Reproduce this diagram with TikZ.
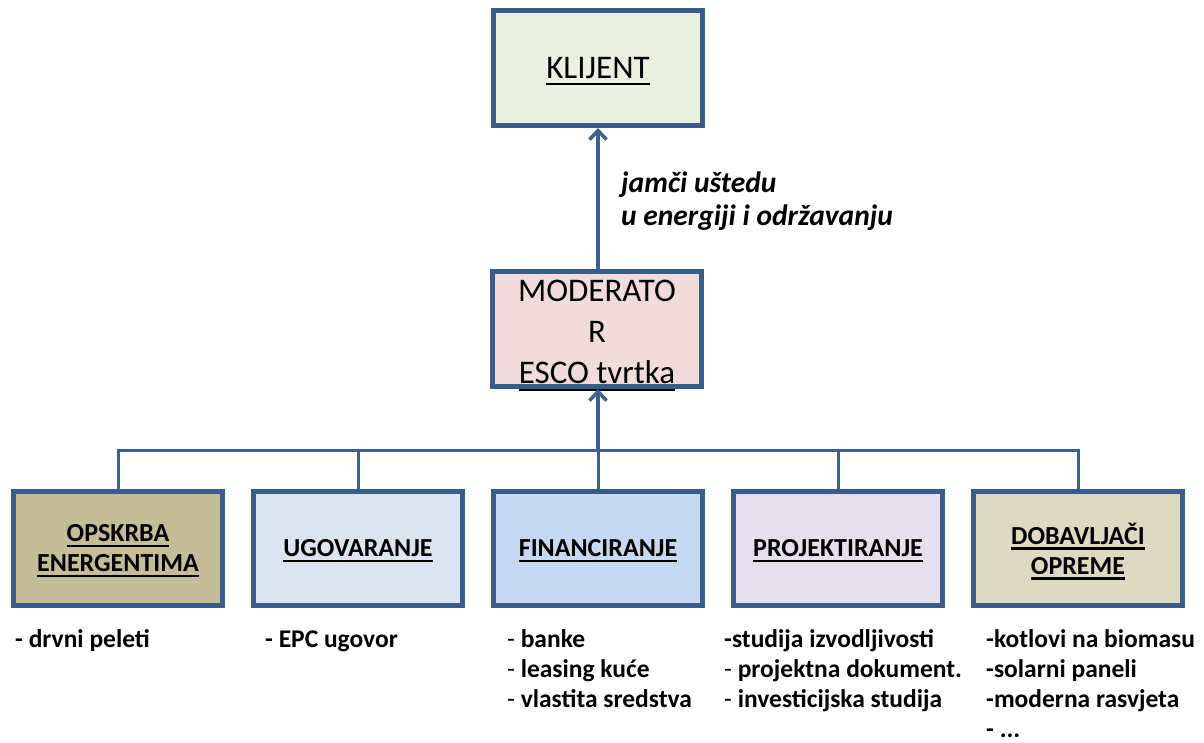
\documentclass[tikz,border=0pt]{standalone}
\usepackage{fontspec}
\setmainfont{Carlito}
\usetikzlibrary{arrows.meta}
\definecolor{bordc}{HTML}{385D8A}
\definecolor{connc}{HTML}{3B6192}
\definecolor{klfill}{HTML}{EBF1DE}
\definecolor{modfill}{HTML}{F2DCDB}
\definecolor{fa}{HTML}{C4BD97}
\definecolor{fb}{HTML}{DBE5F1}
\definecolor{fc}{HTML}{C6D9F1}
\definecolor{fd}{HTML}{E5E0EC}
\definecolor{fe}{HTML}{DDD9C3}
\newcommand\myul[3]{\setbox0\hbox{#3}\rlap{\smash{\rule[-#1]{\wd0}{#2}}}\box0}
\newcommand\ulr[1]{\myul{7pt}{2pt}{#1}}
\newcommand\ulb[1]{\myul{5.5pt}{2.5pt}{#1}}
\newcommand\md{{\mdseries -}}
\begin{document}
\begin{tikzpicture}[x=1pt,y=-1pt,
  box/.style={draw=bordc, line width=5pt, minimum width=209pt, minimum height=114pt, align=center, inner sep=0pt},
  bigtext/.style={font=\fontsize{33}{41}\selectfont},
  boldlbl/.style={font=\bfseries\fontsize{26}{30}\selectfont},
  listtext/.style={font=\bfseries\fontsize{25.5}{30}\selectfont, inner sep=0pt, anchor=base west},
  conn/.style={draw=connc, line width=3pt},
  arr/.style={draw=connc, line width=3.5pt, -{Straight Barb[length=9pt,width=17pt]}}
]
\useasboundingbox (0,0) rectangle (1204,742);

\node[box, fill=klfill, bigtext, minimum height=115pt] (kl) at (598,68) {\ulr{KLIJENT}};
\node[box, fill=modfill, bigtext, minimum height=115pt] (mod) at (597,329) {\rule{0pt}{28pt}MODERATO\\R\\\ulr{ESCO tvrtka}};

\node[box, fill=fa, boldlbl] (b1) at (118,548.5) {\ulb{OPSKRBA}\\\ulb{ENERGENTIMA}};
\node[box, fill=fb, boldlbl] (b2) at (358,548.5) {\ulb{UGOVARANJE}};
\node[box, fill=fc, boldlbl] (b3) at (598,548.5) {\ulb{FINANCIRANJE}};
\node[box, fill=fd, boldlbl] (b4) at (838,548.5) {\ulb{PROJEKTIRANJE}};
\node[box, fill=fe, boldlbl] (b5) at (1078,548.5) {\ulb{DOBAVLJAČI}\\\ulb{OPREME}};

\coordinate (bus) at (0,450);
\draw[conn] (b1.north) -- (b1.north |- bus) -- (b5.north |- bus) -- (b5.north);
\draw[conn] (b2.north) -- (b2.north |- bus);
\draw[conn] (b4.north) -- (b4.north |- bus);
\draw[conn] (b3.north) -- (b3.north |- bus);
\draw[arr] (b3.north |- bus) -- (mod.south -| b3.north);
\draw[arr] (mod.north -| kl.south) -- (kl.south);

\node[font=\bfseries\itshape\fontsize{29.5}{33.5}\selectfont, inner sep=0pt, anchor=base west] (lbl) at (621,192) {\vtop{\hbox{jamči uštedu}\hbox{u energiji i održavanju}}};

\node[listtext] (l1) at (15,647) {- drvni peleti};
\node[listtext] (l2) at (265,647) {- EPC ugovor};
\node[listtext] (l3) at (507,647) {\vtop{\hbox{\md{} banke}\hbox{\md{} leasing kuće}\hbox{\md{} vlastita sredstva}}};
\node[listtext] (l4) at (724,647) {\vtop{\hbox{-studija izvodljivosti}\hbox{\md{} projektna dokument.}\hbox{\md{} investicijska studija}}};
\node[listtext] (l5) at (986,647) {\vtop{\hbox{-kotlovi na biomasu}\hbox{-solarni paneli}\hbox{-moderna rasvjeta}\hbox{- ...}}};
\end{tikzpicture}
\end{document}
